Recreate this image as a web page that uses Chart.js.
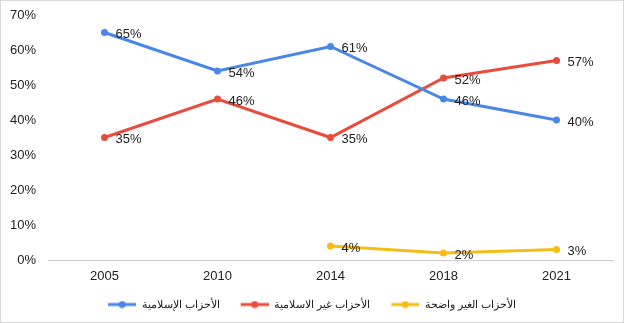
<!DOCTYPE html>
<html>
<head>
<meta charset="utf-8">
<script src="https://cdn.jsdelivr.net/npm/chart.js@4/dist/chart.umd.min.js"></script>
<style>
  html, body { margin: 0; padding: 0; background: #fff; }
  #wrap { position: relative; width: 624px; height: 323px; }
</style>
</head>
<body>
<div id="wrap"><canvas id="chart"></canvas></div>
<script>
// Election years on the category axis
const years = ['2005', '2010', '2014', '2018', '2021'];

// Share of seats (%) by party group
const islamicParties = [65, 54, 61, 46, 40];
const nonIslamicParties = [35, 46, 35, 52, 57];
const unclearParties = [null, null, 4, 2, 3];

// Series names
const seriesNames = ['الأحزاب الإسلامية', 'الأحزاب غير الاسلامية', 'الأحزاب الغير واضحة'];

// Y-axis ticks (percent)
const yTicks = [0, 10, 20, 30, 40, 50, 60, 70];

const colors = ['#4a86e8', '#e84c3d', '#f6bd16'];
const FONT = 'Liberation Sans, Arial, sans-serif';

// Legend marker: short line with a dot in the middle, with blank lead-in
// on the left to space the legend entries apart
const LEAD = 11;
function legendMarker(color) {
  const c = document.createElement('canvas');
  c.width = 28 + LEAD; c.height = 8;
  const g = c.getContext('2d');
  g.strokeStyle = color; g.lineWidth = 3;
  g.beginPath(); g.moveTo(LEAD, 4); g.lineTo(LEAD + 28, 4); g.stroke();
  g.fillStyle = color;
  g.beginPath(); g.arc(LEAD + 14, 4, 3.5, 0, Math.PI * 2); g.fill();
  return c;
}

// Value labels to the right of each point
const valueLabels = {
  id: 'valueLabels',
  afterDatasetsDraw(chart) {
    const ctx = chart.ctx;
    ctx.save();
    ctx.font = '13px ' + FONT;
    ctx.fillStyle = '#222';
    ctx.textAlign = 'left';
    ctx.textBaseline = 'middle';
    chart.data.datasets.forEach((ds, i) => {
      const meta = chart.getDatasetMeta(i);
      meta.data.forEach((pt, j) => {
        const v = ds.data[j];
        if (v === null || v === undefined) return;
        ctx.fillText(v + '%', pt.x + 11, pt.y + 2);
      });
    });
    ctx.restore();
  }
};

// Thin frame around the whole figure
const frame = {
  id: 'frame',
  afterDraw(chart) {
    const ctx = chart.ctx;
    ctx.save();
    ctx.strokeStyle = '#d9d9d9';
    ctx.lineWidth = 1;
    ctx.strokeRect(0.5, 0.5, chart.width - 1, chart.height - 1);
    ctx.restore();
  }
};

const dataSeries = [islamicParties, nonIslamicParties, unclearParties];

new Chart(document.getElementById('chart'), {
  type: 'line',
  data: {
    labels: years,
    datasets: dataSeries.map((d, i) => ({
      label: seriesNames[i],
      data: d,
      borderColor: colors[i],
      backgroundColor: colors[i],
      borderWidth: 3,
      pointRadius: 3.5,
      pointHoverRadius: 3.5,
      pointBorderWidth: 0,
      pointStyle: 'circle',
      tension: 0,
      fill: false,
      spanGaps: false
    }))
  },
  options: {
    responsive: true,
    maintainAspectRatio: false,
    animation: false,
    layout: { padding: { top: 15, right: 11, bottom: 3, left: 0 } },
    plugins: {
      tooltip: { enabled: false },
      legend: {
        position: 'bottom',
        labels: {
          font: { family: FONT, size: 11 },
          color: '#222',
          usePointStyle: true,
          pointStyleWidth: 28 + LEAD,
          boxHeight: 8,
          padding: 10,
          generateLabels(chart) {
            return chart.data.datasets.map((ds, i) => ({
              text: ds.label,
              pointStyle: legendMarker(colors[i]),
              fillStyle: colors[i],
              strokeStyle: colors[i],
              lineWidth: 0,
              hidden: false,
              datasetIndex: i,
              fontColor: '#222'
            }));
          }
        }
      }
    },
    scales: {
      x: {
        offset: true,
        grid: { display: false, drawTicks: false, offset: true },
        border: { display: true, color: '#cccccc', width: 1 },
        ticks: { font: { family: FONT, size: 13 }, color: '#222', padding: 9 },
        afterFit(scale) { scale.height = 29; }
      },
      y: {
        min: 0,
        max: 70,
        grid: { display: false, drawTicks: false },
        border: { display: false },
        afterBuildTicks(scale) { scale.ticks = yTicks.map(v => ({ value: v })); },
        ticks: {
          font: { family: FONT, size: 13 },
          color: '#222',
          padding: 12,
          callback: v => v + '%'
        },
        afterFit(scale) {
          scale.width = 48;
          scale.paddingTop = 0;
          scale.paddingBottom = 0;
        }
      }
    }
  },
  plugins: [valueLabels, frame]
});
</script>
</body>
</html>
